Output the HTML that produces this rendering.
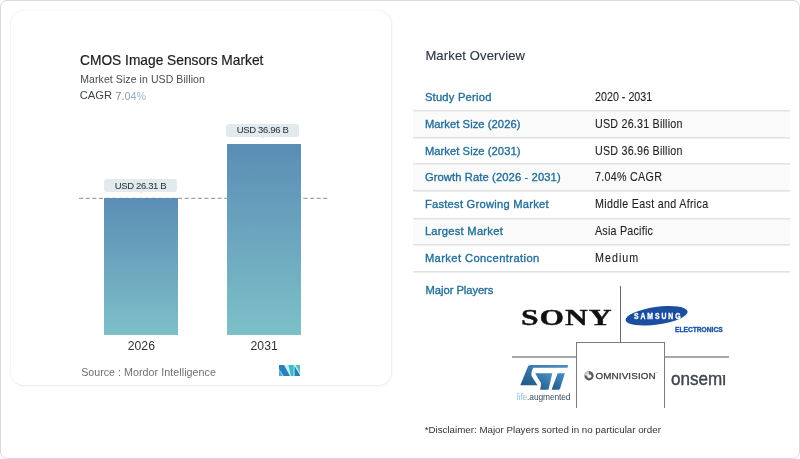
<!DOCTYPE html>
<html>
<head>
<meta charset="utf-8">
<style>
*{margin:0;padding:0;box-sizing:border-box}
html,body{width:800px;height:459px;background:#fff;overflow:hidden}
body{position:relative;font-family:"Liberation Sans",Arial,sans-serif;-webkit-font-smoothing:antialiased}
#root{position:absolute;left:0;top:0;width:800px;height:459px;will-change:transform}
.a{position:absolute;white-space:nowrap;line-height:1}
#frame{position:absolute;left:0;top:0;width:800px;height:459px;border:1px solid #d9d9d9;border-radius:7px}
#card{position:absolute;left:9.5px;top:9.5px;width:382px;height:376px;border-radius:14px;border:1px solid;border-color:#f6f6f6 #f0f0f0 #eeeeee #f5f5f5;box-shadow:0.5px 0.5px 2px rgba(0,0,0,0.03)}
.bar{position:absolute;background:linear-gradient(#5b8db5,#7dc0c8)}
.pill{position:absolute;background:#e3eaee;border-radius:3px;font-size:9.5px;letter-spacing:-0.35px;color:#2c363e;text-align:center;-webkit-text-stroke:0.05px #2c363e}
.pill:after{content:"";position:absolute;left:50%;bottom:-2px;margin-left:-2px;border-left:2px solid transparent;border-right:2px solid transparent;border-top:2px solid #e9eef1}
.row{position:absolute;left:413px;width:377px;height:27px}
.sep{position:absolute;left:413px;width:377px;height:2px;background:linear-gradient(#e3e3e3 50%,#eeeeee 50%)}
.lbl{position:absolute;left:424.9px;font-size:11.2px;color:#246f9a;-webkit-text-stroke:0.35px #246f9a}
.val{position:absolute;left:594.9px;font-size:12.2px;color:#1e1e1e;-webkit-text-stroke:0.1px #1e1e1e;transform:scaleX(0.88);transform-origin:0 0}
</style>
</head>
<body>
<div id="root">
<div id="frame"></div>
<div id="card"></div>

<!-- chart titles -->
<div class="a" style="left:80px;top:54.2px;font-size:13.75px;color:#1a1d20;-webkit-text-stroke:0.2px #1a1d20">CMOS Image Sensors Market</div>
<div class="a" style="left:80.3px;top:73.8px;font-size:10.5px;color:#464b4f;letter-spacing:0.08px">Market Size in USD Billion</div>
<div class="a" style="left:79.7px;top:90.2px;font-size:11.2px;color:#3f4448">CAGR</div>
<div class="a" style="left:115.6px;top:90.6px;font-size:10.7px"><span style="color:#7d858b">7</span><span style="color:#8597a4">.</span><span style="color:#88a3b8">0</span><span style="color:#8cadc6">4</span><span style="color:#93b6d0">%</span></div>

<!-- dashed line -->
<svg class="a" style="left:0;top:0" width="800" height="459">
<line x1="79" y1="198.3" x2="328" y2="198.3" stroke="#8a8f93" stroke-width="1" stroke-dasharray="4.2 2.4"/>
</svg>

<!-- bars -->
<div class="bar" style="left:104px;top:198px;width:73.6px;height:136.5px"></div>
<div class="bar" style="left:227px;top:143.5px;width:74px;height:191px"></div>
<div class="pill" style="left:104px;top:178.5px;width:73px;height:13.5px;line-height:14.4px">USD 26.31 B</div>
<div class="pill" style="left:226.3px;top:123.5px;width:72.6px;height:13.5px;line-height:12.8px">USD 36.96 B</div>

<div class="a" style="left:127.8px;top:340px;font-size:12.2px;color:#333">2026</div>
<div class="a" style="left:250.6px;top:340px;font-size:12.2px;color:#333">2031</div>

<div class="a" style="left:81.2px;top:367.3px;font-size:10.7px;color:#6d7176">Source :</div>
<div class="a" style="left:124px;top:367.3px;font-size:10.7px;color:#6d7176;letter-spacing:0.06px">Mordor Intelligence</div>

<!-- MI logo -->
<svg class="a" style="left:279px;top:365px" width="21" height="11" viewBox="0 0 21 10.8">
<rect x="0" y="0" width="21" height="10.8" fill="#c6f3f8"/>
<polygon points="0,0 5,0 11,10.8 4.6,10.8 0,3.8" fill="#2b82bb"/>
<polygon points="0,4.7 0,10.8 3.8,10.8" fill="#42b6c2"/>
<polygon points="9.4,0 14.8,0 14.5,10.8 11.9,10.8" fill="#3cbcc4"/>
<polygon points="15.5,0.9 15.5,10.8 21,10.8 21,9.9" fill="#2a80b6"/>
<polygon points="16.6,0 21,0 21,7.9" fill="#4bc3b5"/>
</svg>

<!-- right panel -->
<div class="a" style="left:425.4px;top:48.6px;font-size:13px;color:#2c3842;letter-spacing:0.15px;-webkit-text-stroke:0.15px #2c3842">Market Overview</div>

<div class="row" style="top:111px;background:#fafafa;height:27px"></div>
<div class="row" style="top:164.4px;background:#fafafa;height:27px"></div>
<div class="row" style="top:218.6px;background:#fafafa;height:27px"></div>
<div class="sep" style="top:110px"></div>
<div class="sep" style="top:136.7px"></div>
<div class="sep" style="top:163.4px"></div>
<div class="sep" style="top:190.3px"></div>
<div class="sep" style="top:217.6px"></div>
<div class="sep" style="top:244.4px"></div>
<div class="sep" style="top:271.3px"></div>

<div class="lbl a" style="top:91.5px;letter-spacing:0.22px">Study Period</div>
<div class="lbl a" style="top:118.5px;letter-spacing:0.06px">Market Size (2026)</div>
<div class="lbl a" style="top:145.5px;letter-spacing:0.06px">Market Size (2031)</div>
<div class="lbl a" style="top:171.5px;letter-spacing:0.11px">Growth Rate (2026 - 2031)</div>
<div class="lbl a" style="top:198.5px;letter-spacing:0.24px">Fastest Growing Market</div>
<div class="lbl a" style="top:225.5px;letter-spacing:0.25px">Largest Market</div>
<div class="lbl a" style="top:252.5px;letter-spacing:0.39px">Market Concentration</div>

<div class="val a" style="top:90.6px">2020 - 2031</div>
<div class="val a" style="top:117.6px;letter-spacing:0.24px">USD 26.31 Billion</div>
<div class="val a" style="top:144.6px;letter-spacing:0.24px">USD 36.96 Billion</div>
<div class="val a" style="top:170.6px;letter-spacing:0.32px">7.04% CAGR</div>
<div class="val a" style="top:197.6px;letter-spacing:0.35px">Middle East and Africa</div>
<div class="val a" style="top:224.6px;letter-spacing:0.25px">Asia Pacific</div>
<div class="val a" style="top:251.6px;letter-spacing:1.16px">Medium</div>

<div class="lbl a" style="left:425.6px;top:285px;font-size:11.2px;letter-spacing:-0.05px">Major Players</div>

<!-- grid lines -->
<div class="a" style="left:620px;top:285.5px;width:1px;height:57px;background:#6a6a6a"></div>
<div class="a" style="left:576px;top:342px;width:89px;height:66px;border:1px solid #7c7c7c;border-bottom:none"></div>
<div class="a" style="left:512px;top:356px;width:64px;height:1.6px;background:#a8a8a8"></div>
<div class="a" style="left:665px;top:356px;width:64px;height:1.6px;background:#a8a8a8"></div>

<!-- SONY -->
<div class="a" style="left:521.2px;top:305.7px;font-family:'Liberation Serif',serif;font-weight:700;font-size:23.6px;color:#111;letter-spacing:0.7px;-webkit-text-stroke:0.35px #111;transform:scaleX(1.34);transform-origin:0 0">SONY</div>

<!-- SAMSUNG -->
<svg class="a" style="left:620px;top:300px" width="110" height="40" viewBox="0 0 800 291">
<ellipse cx="266" cy="115" rx="228" ry="64" transform="rotate(-8 266 115)" fill="#1b4ea0"/>
<text transform="translate(101,136) scale(0.83,1)" font-family="Liberation Sans" font-weight="700" font-size="60" fill="#fff" stroke="#fff" stroke-width="2.5" letter-spacing="17">SAMSUNG</text>
<text transform="translate(400,231) scale(0.85,1)" font-family="Liberation Sans" font-weight="700" font-size="57" fill="#1f56a5" stroke="#1f56a5" stroke-width="3">ELECTRONICS</text>
</svg>

<!-- ST -->
<svg class="a" style="left:517px;top:362px" width="55" height="30" viewBox="0 0 800 436">
<defs><linearGradient id="stg" x1="0.9" y1="0" x2="0.1" y2="1"><stop offset="0" stop-color="#4a8fc2"/><stop offset="1" stop-color="#22598b"/></linearGradient></defs>
<path d="M164,56 Q176,43 200,43 L742,43 L736,82 L237,82 Q200,150 212,205 L298,337 L48,337 Z" fill="url(#stg)"/>
<path d="M265,164 L513,164 L458,403 L337,403 Q350,340 349,304 Q300,230 265,164 Z" fill="url(#stg)"/>
<path d="M592,164 L697,164 L628,380 Q620,403 598,403 L503,403 Z" fill="url(#stg)"/>
</svg>
<div class="a" style="left:516.8px;top:393.3px;font-size:8.4px;letter-spacing:-0.1px"><span style="color:#8cc4de">life</span><span style="color:#3b4d5c">.augmented</span></div>

<!-- OMNIVISION -->
<svg class="a" style="left:583.5px;top:370.8px" width="10" height="10" viewBox="0 0 10 10">
<defs><radialGradient id="og" cx="0.5" cy="0.5" r="0.5"><stop offset="0.3" stop-color="#8a8a8a"/><stop offset="1" stop-color="#444"/></radialGradient></defs>
<circle cx="5" cy="4.8" r="4.6" fill="url(#og)"/>
<path d="M5,4.8 L0.4,4.8 A4.6,4.6 0 0 1 5,0.2 Z" fill="#c4c4c4"/>
<path d="M5,4.8 L5,0.2 A4.6,4.6 0 0 1 8.2,1.5 Z" fill="#6a6a6a"/>
<ellipse cx="5.4" cy="5.2" rx="1.9" ry="1.7" fill="#fafafa"/>
<path d="M2.6,2.8 L5.2,5" stroke="#f0f0f0" stroke-width="1.4"/>
</svg>
<div class="a" style="left:595.4px;top:370.6px;font-size:9.9px;font-weight:400;color:#3a3a3a;letter-spacing:0.12px;-webkit-text-stroke:0.25px #3a3a3a">OMNIVISION</div>
<div class="a" style="left:654.5px;top:371.5px;font-size:2.5px;color:#888">TM</div>

<!-- onsemi -->
<div class="a" style="left:671px;top:371px;font-size:17.8px;color:#41464c;-webkit-text-stroke:0.4px #41464c;transform:scaleX(0.96);transform-origin:0 0">onsemi</div>
<div class="a" style="left:718px;top:368px;width:9px;height:6.5px;background:#fff"></div>
<div class="a" style="left:722.3px;top:374.8px;width:1.2px;height:1.2px;background:#e07050"></div>

<div class="a" style="left:424.7px;top:425px;font-size:9.75px;color:#333">*Disclaimer: Major Players sorted in no particular order</div>
</div>
</body>
</html>
